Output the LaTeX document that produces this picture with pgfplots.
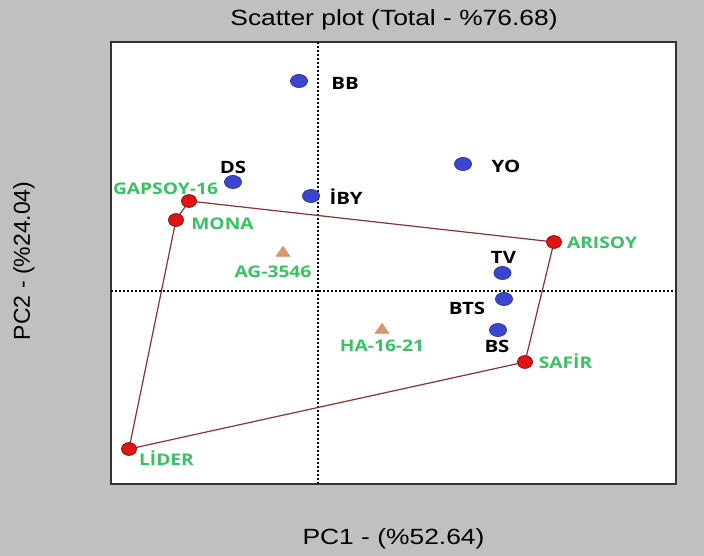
\documentclass[border=0pt]{standalone}
\usepackage{fontspec}
\setmainfont{Liberation Sans}[FakeStretch=1.2]
\newfontfamily\ylabfont{Liberation Sans}
\newfontfamily\labfont{Open Sans}[FakeStretch=1.2]
\usepackage{pgfplots}
\pgfplotsset{compat=1.18}
\definecolor{bgcol}{RGB}{192,192,192}
\definecolor{lgreen}{RGB}{55,195,100}
\definecolor{pblue}{RGB}{58,70,205}
\definecolor{pred}{RGB}{225,20,20}
\definecolor{ptan}{RGB}{214,150,110}
\definecolor{hull}{RGB}{140,50,50}
\tikzset{
  lab/.style={inner sep=0pt, text height=0.714em, text depth=0pt, anchor=center,
    font=\labfont\bfseries\fontsize{8bp}{9bp}\selectfont},
  blab/.style={lab, font=\labfont\bfseries\fontsize{8.5bp}{9bp}\selectfont, text=black},
  glab/.style={lab, text=lgreen},
}
\begin{document}
\begin{tikzpicture}
\fill[bgcol] (0,0) rectangle (352bp,278bp);
\begin{axis}[
  at={(55.5bp,36bp)}, anchor=south west,
  scale only axis, width=282.5bp, height=221bp,
  xmin=-2.07, xmax=3.58, ymin=-1.93, ymax=2.49,
  xtick=\empty, ytick=\empty,
  axis background/.style={fill=white},
  axis line style={draw=black!80, line width=0.8bp},
  extra x ticks={0}, extra y ticks={0},
  extra x tick labels={}, extra y tick labels={},
  extra tick style={grid=major, major tick length=0pt,
    major grid style={black, line width=0.6bp, dash pattern=on 0.8bp off 1.2bp}},
  xlabel={PC1 - (\%52.64)},
  xlabel style={at={(axis description cs:0.5,-0.125)}, anchor=center,
    font=\fontsize{11bp}{13bp}\selectfont},
  ylabel={PC2 - (\%24.04)},
  ylabel style={at={(axis description cs:-0.154,0.505)}, anchor=center,
    font=\ylabfont\fontsize{11.5bp}{13bp}\selectfont},
]
% convex hull
\addplot[hull, line width=0.6bp] coordinates {
  (-1.29,0.90) (2.36,0.49) (2.07,-0.71) (-1.89,-1.58) (-1.42,0.71) (-1.29,0.90)};
% blue points
\addplot[only marks, mark=*, mark size=3.3bp,
  mark options={fill=pblue, draw=pblue!70!black, line width=0.3bp, xscale=1.3}]
  coordinates {(-0.19,2.10) (-0.85,1.09) (-0.07,0.95) (1.45,1.27)
               (1.845,0.18) (1.86,-0.08) (1.80,-0.39)};
% red points (hull vertices)
\addplot[only marks, mark=*, mark size=3.2bp,
  mark options={fill=pred, draw=pred!60!black, line width=0.4bp, xscale=1.17}]
  coordinates {(-1.29,0.90) (-1.42,0.71) (-1.89,-1.58) (2.07,-0.71) (2.36,0.49)};
% triangles
\addplot[only marks, mark=triangle*, mark size=3.3bp,
  mark options={fill=ptan, draw=ptan, xscale=1.2}]
  coordinates {(-0.35,0.38) (0.64,-0.39)};
% labels
\node[blab] at (axis cs:0.27,2.09) {BB};
\node[blab] at (axis cs:-0.85,1.25) {DS};
\node[blab] at (axis cs:0.28,0.94) {İBY};
\node[blab] at (axis cs:1.88,1.26) {YO};
\node[blab] at (axis cs:1.855,0.35) {TV};
\node[blab] at (axis cs:1.49,-0.16) {BTS};
\node[blab] at (axis cs:1.79,-0.54) {BS};
\node[glab] at (axis cs:0.64,-0.53) {HA-16-21};
\node[glab] at (axis cs:2.475,-0.70) {SAFİR};
\node[glab] at (axis cs:2.84,0.50) {ARISOY};
\node[glab] at (axis cs:-1.525,1.04) {GAPSOY-16};
\node[glab] at (axis cs:-0.955,0.69) {MONA};
\node[glab] at (axis cs:-0.45,0.21) {AG-3546};
\node[glab] at (axis cs:-1.515,-1.67) {LİDER};
\end{axis}
\node[inner sep=0pt, text height=0.716em, text depth=0pt, anchor=center,
  font=\fontsize{11bp}{13bp}\selectfont] at (197bp,269bp) {Scatter plot (Total - \%76.68)};
\pgfresetboundingbox
\path (0,0) rectangle (352bp,278bp);
\end{tikzpicture}
\end{document}
